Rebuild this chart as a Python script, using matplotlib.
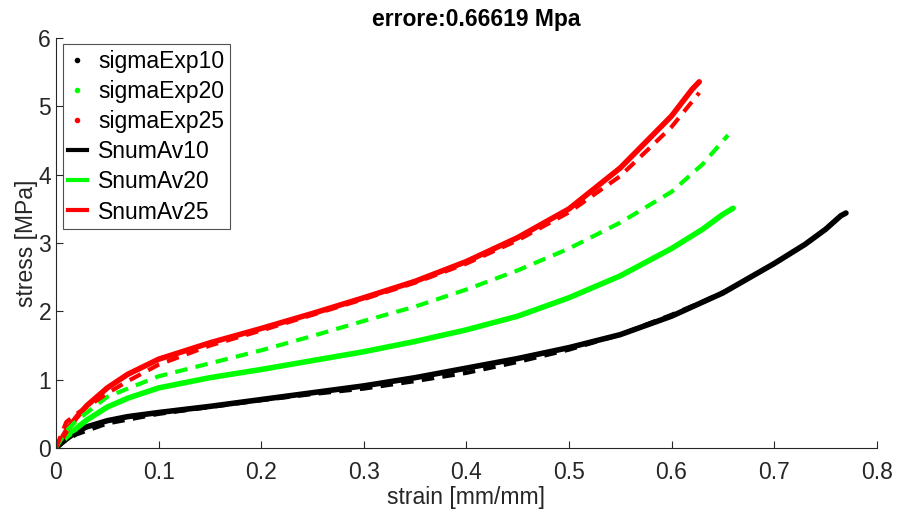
import matplotlib.pyplot as plt
from matplotlib.lines import Line2D

plt.rcParams['font.family'] = ['Liberation Sans', 'DejaVu Sans']

# experimental curves (strain, stress)
strain10 = [0, 0.005, 0.01, 0.02, 0.03, 0.05, 0.07, 0.1, 0.15, 0.2, 0.25, 0.3, 0.35, 0.4, 0.45, 0.5, 0.55, 0.6, 0.65, 0.7, 0.73, 0.75, 0.765, 0.77]
sigmaExp10 = [0, 0.07, 0.13, 0.24, 0.31, 0.4, 0.46, 0.52, 0.61, 0.71, 0.81, 0.91, 1.03, 1.17, 1.31, 1.47, 1.66, 1.93, 2.27, 2.7, 2.98, 3.2, 3.4, 3.44]
strain20 = [0, 0.005, 0.01, 0.02, 0.03, 0.05, 0.07, 0.1, 0.15, 0.2, 0.25, 0.3, 0.35, 0.4, 0.45, 0.5, 0.55, 0.6, 0.63, 0.65, 0.66]
sigmaExp20 = [0, 0.08, 0.16, 0.29, 0.41, 0.6, 0.73, 0.88, 1.03, 1.15, 1.28, 1.41, 1.56, 1.73, 1.93, 2.2, 2.52, 2.92, 3.2, 3.42, 3.51]
strain25 = [0, 0.005, 0.01, 0.02, 0.03, 0.05, 0.07, 0.1, 0.15, 0.2, 0.25, 0.3, 0.35, 0.4, 0.45, 0.5, 0.55, 0.6, 0.62, 0.627]
sigmaExp25 = [0, 0.12, 0.25, 0.45, 0.62, 0.88, 1.08, 1.3, 1.54, 1.75, 1.97, 2.2, 2.44, 2.73, 3.08, 3.5, 4.1, 4.86, 5.25, 5.36]

# numerical averages
strainNum10 = [0, 0.01, 0.02, 0.05, 0.1, 0.15, 0.2, 0.25, 0.3, 0.35, 0.4, 0.45, 0.5, 0.55, 0.6, 0.63, 0.66]
SnumAv10 = [0, 0.12, 0.2, 0.36, 0.5, 0.6, 0.7, 0.79, 0.87, 0.98, 1.1, 1.26, 1.44, 1.66, 1.95, 2.14, 2.35]
strainNum20 = [0, 0.01, 0.02, 0.05, 0.1, 0.15, 0.2, 0.25, 0.3, 0.35, 0.4, 0.45, 0.5, 0.55, 0.6, 0.63, 0.655]
SnumAv20 = [0, 0.25, 0.4, 0.75, 1.05, 1.24, 1.43, 1.64, 1.86, 2.07, 2.32, 2.6, 2.92, 3.3, 3.75, 4.15, 4.58]
strainNum25 = [0, 0.01, 0.02, 0.05, 0.07, 0.1, 0.15, 0.2, 0.25, 0.3, 0.35, 0.4, 0.45, 0.5, 0.55, 0.6, 0.627]
SnumAv25 = [0, 0.38, 0.5, 0.8, 0.98, 1.22, 1.5, 1.72, 1.95, 2.18, 2.42, 2.7, 3.04, 3.45, 3.98, 4.7, 5.2]

labels = ['sigmaExp10', 'sigmaExp20', 'sigmaExp25', 'SnumAv10', 'SnumAv20', 'SnumAv25']

fig = plt.figure(figsize=(8.97, 5.15), dpi=100)
ax = fig.add_axes([0.0624, 0.130, 0.915, 0.796])

ax.plot(strain10, sigmaExp10, color='k', lw=4, solid_capstyle='round', solid_joinstyle='round')
ax.plot(strain20, sigmaExp20, color='#00ff00', lw=4, solid_capstyle='round', solid_joinstyle='round')
ax.plot(strain25, sigmaExp25, color='r', lw=4, solid_capstyle='round', solid_joinstyle='round')
ax.plot(strainNum10, SnumAv10, color='k', lw=3, ls=(0, (3, 2)))
ax.plot(strainNum20, SnumAv20, color='#00ff00', lw=3, ls=(0, (3, 2)))
ax.plot(strainNum25, SnumAv25, color='r', lw=3, ls=(0, (3, 2)))

ax.set_xlim(0, 0.8)
ax.set_ylim(0, 6)
ax.set_xticks([0, 0.1, 0.2, 0.3, 0.4, 0.5, 0.6, 0.7, 0.8])
ax.set_xticklabels(['0', '0.1', '0.2', '0.3', '0.4', '0.5', '0.6', '0.7', '0.8'])
ax.tick_params(labelsize=16.5, colors='#262626', direction='in', length=5, width=0.8)
ax.tick_params(axis='x', pad=9)
for s in ['top', 'right']:
    ax.spines[s].set_visible(False)
for s in ['left', 'bottom']:
    ax.spines[s].set_color('#262626')
    ax.spines[s].set_linewidth(0.8)
ax.set_xlabel('strain [mm/mm]', fontsize=16.5, color='#262626', labelpad=2)
ax.set_ylabel('stress [MPa]', fontsize=16.5, color='#262626', labelpad=0)
ax.set_title('errore:0.66619 Mpa', fontsize=16.5, fontweight='bold', pad=9, x=0.512)

# legend handles: dots for experiments, short dashes for numerics
handles = [Line2D([], [], color=c, marker='.', ls='none', markersize=6) for c in ['k', '#00ff00', 'r']]
handles += [Line2D([], [], color=c, lw=3) for c in ['k', '#00ff00', 'r']]
leg = ax.legend(handles, labels, loc='upper left', bbox_to_anchor=(0.008, 0.985), fontsize=16.5,
                fancybox=False, edgecolor='#262626', handlelength=0.8, handletextpad=0.5,
                borderpad=0.25, labelspacing=0.31, borderaxespad=0)
leg.get_frame().set_linewidth(0.8)

fig.savefig('out.png', dpi=100)
